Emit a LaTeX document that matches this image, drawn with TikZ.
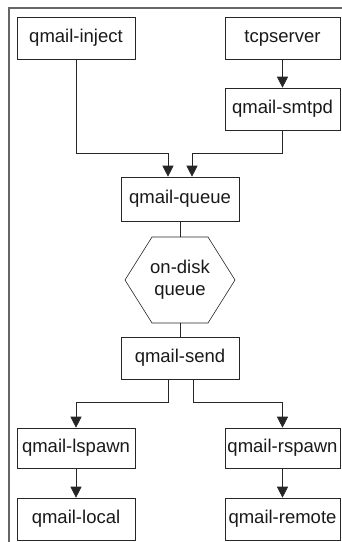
\documentclass[tikz,border=0pt]{standalone}
\usepackage{fontspec}
\setmainfont{Liberation Sans}
\usetikzlibrary{arrows.meta,calc}

\begin{document}
\begin{tikzpicture}[x=1pt,y=-1pt,->,>={Triangle[length=11pt,width=11pt]},semithick,draw=black!85]
\useasboundingbox (0,0) rectangle (342,542);
\draw[-,black!60,line width=1.2pt] (9,542) |- (342,8);
\begin{scope}[every node/.style={draw,minimum height=42pt,inner sep=0pt,font=\fontsize{18.5}{22}\selectfont,text=black!90}]

\node[minimum width=118pt] (inject) at (76,38) {qmail-inject};
\node[minimum width=115pt] (tcp) at (282.5,38) {tcpserver};
\node[minimum width=115pt] (smtpd) at (282.5,109) {qmail-smtpd};
\node[minimum width=118pt,minimum height=44pt] (queue) at (180,199) {qmail-queue};
\node[draw=none,minimum width=56pt,minimum height=86pt,align=center] (disk) at (180,280) {on-disk\\queue};
\node[minimum width=118pt] (send) at (180,358) {qmail-send};
\node[minimum width=118pt,minimum height=40pt] (lspawn) at (76,448) {qmail-lspawn};
\node[minimum width=118pt] (local) at (76,519) {qmail-local};
\node[minimum width=115pt,minimum height=40pt] (rspawn) at (282.5,448) {qmail-rspawn};
\node[minimum width=115pt] (remote) at (282.5,519) {qmail-remote};

% hexagon round the queue
\draw[-] ($(disk)+(-28,-43)$) -- ($(disk)+(28,-43)$) -- ($(disk)+(55,0)$) -- ($(disk)+(28,43)$) -- ($(disk)+(-28,43)$) -- ($(disk)+(-55,0)$) -- cycle;

\draw [->] (tcp) to (smtpd);
\draw [->] (inject.south) |- ($(queue.north)+(-12,-23)$) -- ([xshift=-12pt]queue.north);
\draw [->] (smtpd.south) |- ($(queue.north)+(12,-23)$) -- ([xshift=12pt]queue.north);
\draw [-] (queue) to (disk);
\draw [-] (disk) to (send);
\draw [->] ([xshift=-12pt]send.south) -- ++(0,23) -| (lspawn.north);
\draw [->] ([xshift=13pt]send.south) -- ++(0,23) -| (rspawn.north);
\draw [->] (lspawn) to (local);
\draw [->] (rspawn) to (remote);

\end{scope}
\end{tikzpicture}
\end{document}
